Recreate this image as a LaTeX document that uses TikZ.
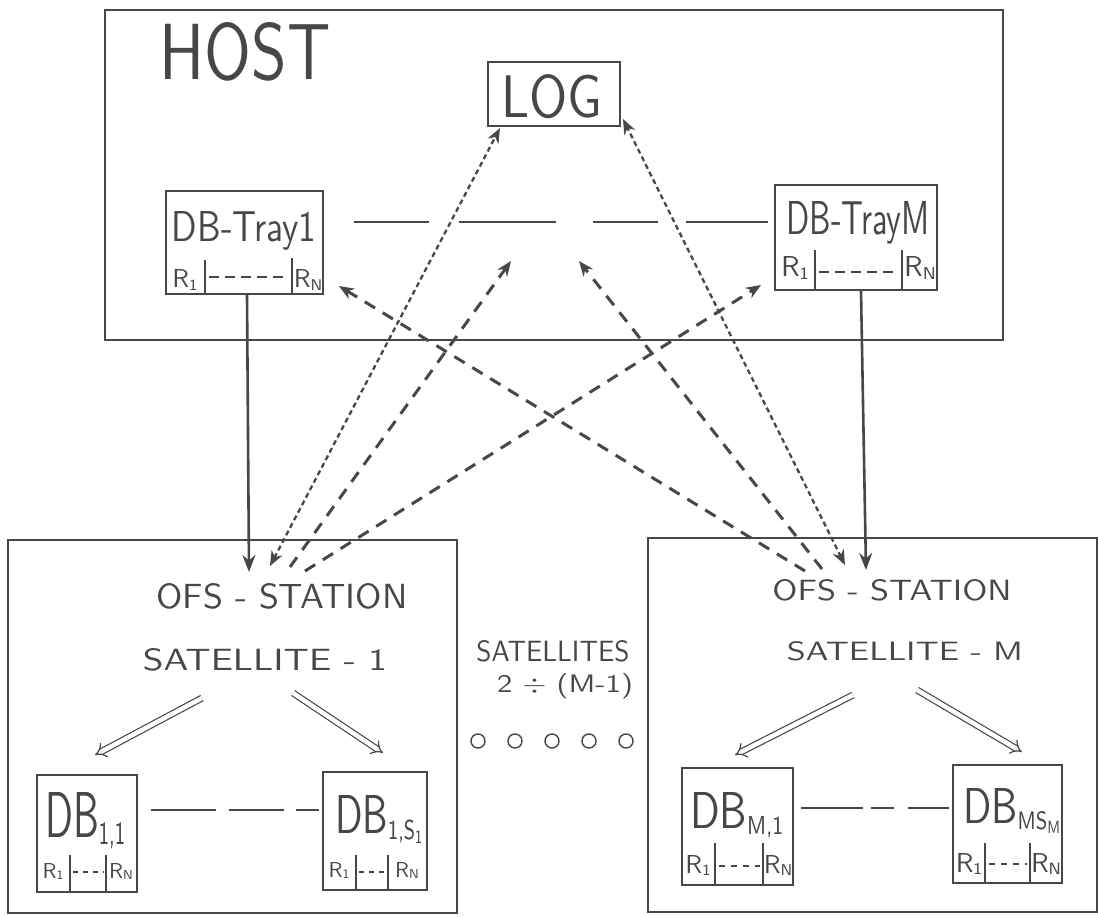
\documentclass[tikz,border=0pt]{standalone}
\usepackage{fontspec}
\usepackage{graphicx}
\usetikzlibrary{arrows.meta}
\definecolor{ink}{gray}{0.28}
\newcommand{\mysub}[1]{\raisebox{-1.2pt}{\fontsize{5}{5}\selectfont #1}}
\newcommand{\mysubsub}[1]{\raisebox{-0.8pt}{\fontsize{3.5}{3.5}\selectfont #1}}
\newcommand{\rsub}[1]{\raisebox{-0.8pt}{\fontsize{6}{6}\selectfont #1}}
\newcommand{\spaced}[1]{{\addfontfeatures{LetterSpace=30}#1}}
\begin{document}
\begin{tikzpicture}[x=1pt,y=-1pt,
  every node/.style={font=\sffamily, text=ink, inner sep=0pt},
  frame/.style={draw=ink, line width=1.8pt},
  box/.style={draw=ink, line width=1.6pt, inner sep=0pt},
  bar/.style={draw=ink, line width=1.4pt},
  rdash/.style={draw=ink, line width=1.1pt, dash pattern=on 10pt off 6pt},
  longdash/.style={draw=ink, line width=1.4pt},
  dasharrow/.style={draw=ink, line width=3pt, dash pattern=on 12pt off 9pt},
  dotarrow/.style={draw=ink, line width=2.3pt, dash pattern=on 5pt off 3.5pt},
  tip/.style={-{Stealth[length=15pt,width=12pt]}},
  bothtip/.style={{Stealth[length=15pt,width=12pt]}-{Stealth[length=15pt,width=12pt]}},
  solidarrow/.style={draw=ink, line width=2.6pt, -{Stealth[length=17pt,width=13pt]}},
  dblarrow/.style={draw=ink, double=white, double distance=4.5pt, line width=1.2pt, -{Implies}},
]
\useasboundingbox (0,0) rectangle (1098,917);

% ---------- HOST ----------
\draw[frame] (105,10) rectangle (1003,340);
\node[anchor=base] (hostlbl) at (245,80) {\resizebox{171pt}{57pt}{HOST}};

\node[box, minimum width=132pt, minimum height=64pt] (log) at (554,94) {};
\node[anchor=base] (loglbl) at (552,118) {\resizebox{101pt}{43pt}{LOG}};

% DB-Tray1
\node[box, minimum width=157pt, minimum height=103pt] (tray1) at (244.5,242.5) {};
\node[anchor=base] (tray1lbl) at (244,242) {\resizebox{144pt}{30pt}{DB-Tray1}};
\draw[bar] (205,260) -- (205,294);
\draw[bar] (292,258) -- (292,294);
\draw[rdash] (209,277) -- (289,277);
\node[anchor=base] (t1r1) at (185,288) {\resizebox{!}{18pt}{R\rsub{1}}};
\node[anchor=base] (t1rn) at (308,288) {\resizebox{!}{18pt}{R\rsub{N}}};

% DB-TrayM
\node[box, minimum width=162pt, minimum height=105pt] (trayM) at (856,237.5) {};
\node[anchor=base] (trayMlbl) at (858,235) {\resizebox{143pt}{33pt}{DB-TrayM}};
\draw[bar] (815,250) -- (815,290);
\draw[bar] (902,250) -- (902,290);
\draw[rdash] (819,272) -- (899,272);
\node[anchor=base] (tMr1) at (795,277) {\resizebox{!}{20pt}{R\rsub{1}}};
\node[anchor=base] (tMrn) at (920,277) {\resizebox{!}{20pt}{R\rsub{N}}};

% line between the trays
\coordinate (ytray) at (0,222);
\draw[longdash, dash pattern=on 75pt off 30pt on 97pt off 37pt on 65pt off 28pt on 82pt]
  (tray1.east |- ytray) ++(30,0) -- (trayM.west |- ytray) ++(-8,0);

% ---------- SATELLITE 1 ----------
\node[box, minimum width=449pt, minimum height=373pt] (sat1) at (232.5,726.5) {};
\node[anchor=base] (ofs1) at (282,608) {\resizebox{251pt}{25pt}{\spaced{OFS - STATION}}};
\node[anchor=base] (sat1lbl) at (265,670) {\resizebox{244pt}{22pt}{\spaced{SATELLITE - 1}}};

\node[box, minimum width=100pt, minimum height=117pt] (db11) at (87,833.5) {};
\node[anchor=base west] (db11lbl) at (45,837) {\resizebox{80pt}{45pt}{DB\mysub{1,1}}};
\draw[bar] (70,855) -- (70,892);
\draw[bar] (106,855) -- (106,892);
\draw[rdash, dash pattern=on 5pt off 5pt] (73,872) -- (104,872);
\node[anchor=base] (d11r1) at (53,878) {\resizebox{!}{15pt}{R\rsub{1}}};
\node[anchor=base] (d11rn) at (121,878) {\resizebox{!}{15pt}{R\rsub{N}}};

\node[box, minimum width=104pt, minimum height=118pt] (db1s) at (375,831) {};
\node[anchor=base west] (db1slbl) at (335,833) {\resizebox{87pt}{38pt}{DB\mysub{1,S\mysubsub{1}}}};
\draw[bar] (356,855) -- (356,890);
\draw[bar] (388,855) -- (388,890);
\draw[rdash, dash pattern=on 5pt off 5pt] (359,872) -- (386,872);
\node[anchor=base] (d1sr1) at (339,877) {\resizebox{!}{15pt}{R\rsub{1}}};
\node[anchor=base] (d1srn) at (407,877) {\resizebox{!}{15pt}{R\rsub{N}}};

\coordinate (y1) at (0,810);
\draw[longdash, dash pattern=on 65pt off 13pt on 55pt off 12pt on 23pt]
  (db11.east |- y1) ++(13,0) -- (db1s.west |- y1) ++(-5,0);

\coordinate (s1a) at (202,698); \coordinate (s1b) at (95,755);
\coordinate (s1c) at (293,693); \coordinate (s1d) at (383,753);
\draw[dblarrow] (s1a) -- (s1b);
\draw[dblarrow] (s1c) -- (s1d);

% ---------- SATELLITE M ----------
\node[box, minimum width=449pt, minimum height=374pt] (satM) at (872.5,725) {};
\node[anchor=base] (ofsM) at (892,600) {\resizebox{239pt}{21pt}{\spaced{OFS - STATION}}};
\node[anchor=base] (satMlbl) at (905,660) {\resizebox{236pt}{19pt}{\spaced{SATELLITE - M}}};

\node[box, minimum width=111pt, minimum height=117pt] (dbm1) at (737.5,826.5) {};
\node[anchor=base west] (dbm1lbl) at (690,828) {\resizebox{93pt}{36pt}{DB\mysub{M,1}}};
\draw[bar] (715,843) -- (715,885);
\draw[bar] (763,843) -- (763,885);
\draw[rdash, dash pattern=on 6pt off 6pt] (719,866) -- (760,866);
\node[anchor=base] (dm1r1) at (698,873) {\resizebox{!}{18pt}{R\rsub{1}}};
\node[anchor=base] (dm1rn) at (778,873) {\resizebox{!}{18pt}{R\rsub{N}}};

\node[box, minimum width=109pt, minimum height=118pt] (dbms) at (1007.5,824) {};
\node[anchor=base west] (dbmslbl) at (963,823) {\resizebox{97pt}{35pt}{DB\mysub{MS\mysubsub{M}}}};
\draw[bar] (985,843) -- (985,883);
\draw[bar] (1030,843) -- (1030,883);
\draw[rdash, dash pattern=on 6pt off 6pt] (989,864) -- (1027,864);
\node[anchor=base] (dmsr1) at (969,872) {\resizebox{!}{19pt}{R\rsub{1}}};
\node[anchor=base] (dmsrn) at (1046,872) {\resizebox{!}{19pt}{R\rsub{N}}};

\coordinate (y2) at (0,808);
\draw[longdash, dash pattern=on 62pt off 8pt on 23pt off 14pt on 41pt]
  (dbm1.east |- y2) ++(7,0) -- (dbms.west |- y2) ++(-5,0);

\coordinate (sMa) at (853,695); \coordinate (sMb) at (735,755);
\coordinate (sMc) at (917,690); \coordinate (sMd) at (1022,752);
\draw[dblarrow] (sMa) -- (sMb);
\draw[dblarrow] (sMc) -- (sMd);

% ---------- middle text ----------
\node[anchor=base] (sats) at (553,661) {\resizebox{153pt}{21pt}{SATELLITES}};
\node[anchor=base] (range) at (565,692) {\resizebox{136pt}{19pt}{2 $\div$ (M-1)}};
\foreach \cx in {478,515,552,589,626}
  \draw[ink, line width=1.4pt] (\cx,741) circle[radius=7pt];

% ---------- vertical arrows ----------
\coordinate (s1in) at (249,572);
\coordinate (sMin) at (866,570);
\draw[solidarrow] ([xshift=2.5pt]tray1.south) -- (s1in);
\draw[solidarrow] ([xshift=5pt]trayM.south) -- (sMin);

% ---------- dashed arrows ----------
\coordinate (a1) at (270,566);
\coordinate (a2) at (290,567);
\coordinate (a3) at (305,571);
\coordinate (b1) at (845,565);
\coordinate (b2) at (822,569);
\coordinate (b3) at (805,571);
\coordinate (logL) at (500,128);
\coordinate (logR) at (623,119);
\coordinate (mid1) at (511,261);
\coordinate (mid2) at (579,261);
\coordinate (t1in) at (339,286);
\coordinate (tMin) at (761,285);

\draw[dotarrow, bothtip] (a1) -- (logL);
\draw[dasharrow, tip] (a2) -- (mid1);
\draw[dasharrow, tip] (a3) -- (tMin);
\draw[dotarrow, bothtip] (b1) -- (logR);
\draw[dasharrow, tip] (b2) -- (mid2);
\draw[dasharrow, tip] (b3) -- (t1in);
\end{tikzpicture}
\end{document}
